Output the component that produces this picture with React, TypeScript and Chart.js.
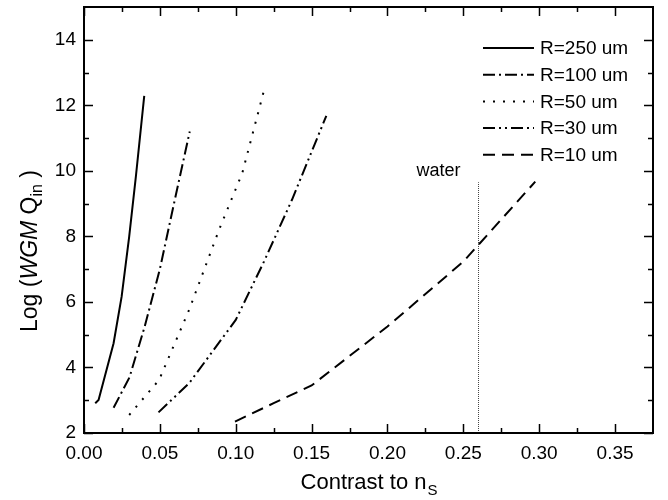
import React, { useEffect, useRef } from "react";
import { Chart, registerables } from "chart.js";

Chart.register(...registerables);

const FONT = "'Liberation Sans', Arial, Helvetica, sans-serif";

const seriesNames = ["R=250 um", "R=100 um", "R=50 um", "R=30 um", "R=10 um"];

const r250X = [0.0074, 0.0096, 0.0195, 0.0248, 0.0298, 0.0342, 0.0397];
const r250Y = [2.91, 3.01, 4.74, 6.16, 8.0, 9.83, 12.29];

const r100X = [0.0195, 0.03, 0.04, 0.05, 0.06, 0.0697];
const r100Y = [2.77, 3.7, 5.25, 7.0, 9.15, 11.2];

const r50X = [0.0298, 0.0495, 0.0693, 0.089, 0.1043, 0.1186];
const r50Y = [2.55, 3.62, 5.76, 8.2, 9.93, 12.45];

const r30X = [0.0491, 0.0693, 0.1, 0.1186, 0.137, 0.1597];
const r30Y = [2.63, 3.52, 5.45, 7.23, 9.11, 11.68];

const r10X = [0.0995, 0.125, 0.15, 0.2, 0.25, 0.2974];
const r10Y = [2.35, 2.91, 3.45, 5.25, 7.23, 9.67];

const waterX = [0.26, 0.26];
const waterY = [2, 9.65];
const waterLabel = "water";

const xTicks = [0, 0.05, 0.1, 0.15, 0.2, 0.25, 0.3, 0.35];
const xMinorTicks = [0.025, 0.075, 0.125, 0.175, 0.225, 0.275, 0.325];
const yTicks = [2, 4, 6, 8, 10, 12, 14];
const yMinorTicks = [3, 5, 7, 9, 11, 13];

const X_MIN = 0;
const X_MAX = 0.375;
const Y_MIN = 2;
const Y_MAX = 15;

const dashes = [[], [12, 4, 2, 4], [2, 8], [12, 4, 2, 4, 2, 4], [12, 7]];

const toPts = (xs: number[], ys: number[]) => xs.map((x, i) => ({ x, y: ys[i] }));

const decorPlugin = {
  id: "decor",
  afterDatasetsDraw(chart: any) {
    const ctx = chart.ctx;
    const { left, right, top, bottom } = chart.chartArea;
    const xs = chart.scales.x;
    const ys = chart.scales.y;
    ctx.save();
    ctx.strokeStyle = "#000";
    ctx.lineWidth = 1.5;
    const drawX = (v: number, len: number) => {
      const p = Math.round(xs.getPixelForValue(v)) + 0.5;
      ctx.beginPath();
      ctx.moveTo(p, bottom);
      ctx.lineTo(p, bottom - len);
      ctx.moveTo(p, top);
      ctx.lineTo(p, top + len);
      ctx.stroke();
    };
    const drawY = (v: number, len: number) => {
      const p = Math.round(ys.getPixelForValue(v)) + 0.5;
      ctx.beginPath();
      ctx.moveTo(left, p);
      ctx.lineTo(left + len, p);
      ctx.moveTo(right, p);
      ctx.lineTo(right - len, p);
      ctx.stroke();
    };
    xTicks.forEach((v) => drawX(v, 9));
    xMinorTicks.forEach((v) => drawX(v, 5));
    yTicks.forEach((v) => drawY(v, 9));
    yMinorTicks.forEach((v) => drawY(v, 5));
    ctx.lineWidth = 2;
    ctx.strokeRect(left, top, right - left, bottom - top);

    // legend
    const ds = chart.data.datasets;
    ctx.font = `19px ${FONT}`;
    ctx.fillStyle = "#000";
    ctx.textBaseline = "middle";
    ctx.textAlign = "left";
    for (let i = 0; i < seriesNames.length; i++) {
      const yy = 48 + i * 26.7;
      ctx.beginPath();
      ctx.lineWidth = 2;
      ctx.setLineDash(ds[i].borderDash || []);
      ctx.moveTo(483, yy);
      ctx.lineTo(534, yy);
      ctx.stroke();
      ctx.setLineDash([]);
      ctx.fillText(seriesNames[i], 540, yy + 1);
    }

    // water label
    ctx.font = `18px ${FONT}`;
    ctx.textAlign = "center";
    ctx.textBaseline = "alphabetic";
    ctx.fillText(waterLabel, xs.getPixelForValue(waterX[0]) - 40, ys.getPixelForValue(waterY[1]) - 6);

    // x title
    const big = `22px ${FONT}`;
    const small = `15px ${FONT}`;
    ctx.font = big;
    const t1 = "Contrast to n";
    const w1 = ctx.measureText(t1).width;
    ctx.font = small;
    const w2 = ctx.measureText("S").width;
    const cx = (left + right) / 2;
    const sx = cx - (w1 + w2) / 2;
    ctx.textAlign = "left";
    ctx.font = big;
    ctx.fillText(t1, sx, 489);
    ctx.font = small;
    ctx.fillText("S", sx + w1 + 1, 495);

    // y title
    const yBig = `23px ${FONT}`;
    const parts = [
      { t: "Log (", f: yBig, dy: 0 },
      { t: "WGM", f: `italic 23px ${FONT}`, dy: 0 },
      { t: " Q", f: yBig, dy: 0 },
      { t: "in", f: `16px ${FONT}`, dy: 5 },
      { t: " )", f: yBig, dy: 0 },
    ];
    let total = 0;
    parts.forEach((p) => {
      ctx.font = p.f;
      total += ctx.measureText(p.t).width;
    });
    ctx.translate(37, 251);
    ctx.rotate(-Math.PI / 2);
    let px = -total / 2;
    parts.forEach((p) => {
      ctx.font = p.f;
      ctx.fillText(p.t, px, p.dy);
      px += ctx.measureText(p.t).width;
    });
    ctx.restore();
  },
};

export default function App() {
  const ref = useRef<HTMLCanvasElement | null>(null);
  useEffect(() => {
    if (!ref.current) return;
    const mk = (i: number, xs: number[], ys: number[]) => ({
      label: seriesNames[i],
      data: toPts(xs, ys),
      borderColor: "#000",
      borderWidth: 2,
      borderDash: dashes[i],
      pointRadius: 0,
      fill: false,
      tension: 0,
    });
    const zeroPad = (s: any) => {
      s.paddingTop = 0;
      s.paddingBottom = 0;
      s.paddingLeft = 0;
      s.paddingRight = 0;
    };
    const chart = new Chart(ref.current, {
      type: "scatter",
      data: {
        datasets: [
          mk(0, r250X, r250Y),
          mk(1, r100X, r100Y),
          mk(2, r50X, r50Y),
          mk(3, r30X, r30Y),
          mk(4, r10X, r10Y),
          {
            label: waterLabel,
            data: toPts(waterX, waterY),
            borderColor: "#444",
            borderWidth: 1,
            borderDash: [1, 1],
            pointRadius: 0,
            fill: false,
          },
        ] as any,
      },
      options: {
        animation: false,
        responsive: false,
        showLine: true,
        layout: { padding: { top: 7, right: 15, left: 0, bottom: 0 } },
        plugins: { legend: { display: false }, tooltip: { enabled: false } },
        scales: {
          x: {
            type: "linear",
            min: X_MIN,
            max: X_MAX,
            grid: { display: false, drawTicks: false },
            border: { display: false },
            afterFit: (s: any) => { s.height = 67; zeroPad(s); },
            afterBuildTicks: (s: any) => { s.ticks = xTicks.map((v) => ({ value: v })); },
            ticks: {
              padding: 9,
              color: "#000",
              font: { family: FONT, size: 19 },
              callback: (v: any) => Number(v).toFixed(2),
            },
          },
          y: {
            type: "linear",
            min: Y_MIN,
            max: Y_MAX,
            grid: { display: false, drawTicks: false },
            border: { display: false },
            afterFit: (s: any) => { s.width = 84; zeroPad(s); },
            afterBuildTicks: (s: any) => { s.ticks = yTicks.map((v) => ({ value: v })); },
            ticks: {
              padding: 8,
              color: "#000",
              font: { family: FONT, size: 19 },
              callback: (v: any) => String(v),
            },
          },
        },
      } as any,
      plugins: [decorPlugin],
    });
    return () => chart.destroy();
  }, []);
  return (
    <div style={{ position: "fixed", left: 0, top: 0, width: 668, height: 500, background: "#fff" }}>
      <canvas ref={ref} width={668} height={500} style={{ width: 668, height: 500 }} />
    </div>
  );
}
